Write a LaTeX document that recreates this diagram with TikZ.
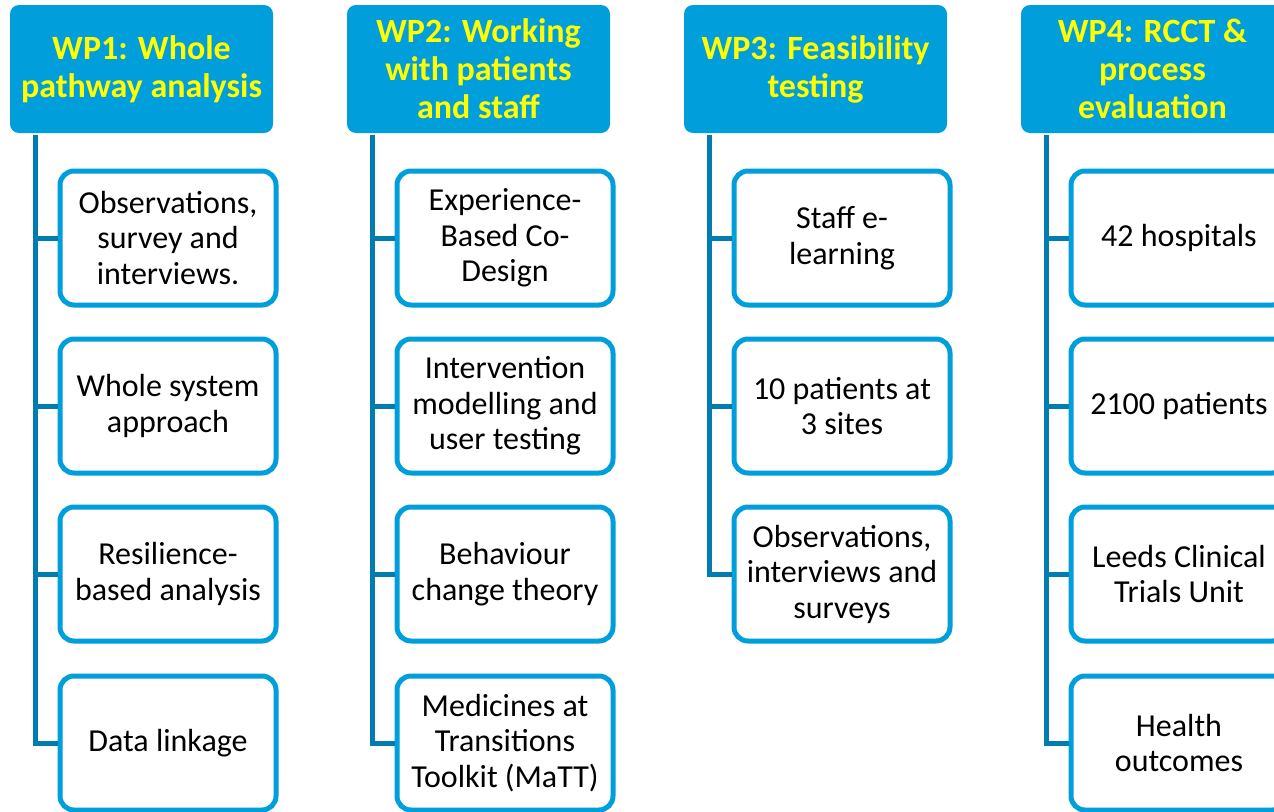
\documentclass[tikz,border=0pt]{standalone}
\usepackage{fontspec}
\setmainfont{Carlito}
\usetikzlibrary{positioning}

\definecolor{wpblue}{RGB}{0,158,219}
\definecolor{wpline}{RGB}{0,124,176}
\definecolor{wpyellow}{RGB}{255,255,0}

\begin{document}
\begin{tikzpicture}[x=1pt,y=-1pt,
  wp/.style={fill=wpblue,rounded corners=9pt,minimum width=263pt,minimum height=128pt,
    text=wpyellow,align=center,font=\fontsize{34}{38}\selectfont\bfseries,inner sep=0pt},
  task/.style={draw=wpblue,line width=5pt,fill=white,rounded corners=14pt,
    minimum width=216pt,minimum height=134pt,align=center,
    font=\fontsize{32}{35.5}\selectfont,inner sep=0pt},
  trunk/.style={draw=wpline,line width=5pt}]
 \useasboundingbox (0,0) rectangle (1274,811);
 \clip (0,0) rectangle (1274,811);
 % work package headers
 \node[wp] (wp1) at (141.5,69) {WP1: Whole\\pathway analysis};
 \node[wp] (wp2) at (478.5,69) {WP2: Working\\with patients\\and staff};
 \node[wp] (wp3) at (815.5,69) {WP3: Feasibility\\testing};
 \node[wp] (wp4) at (1152.5,69) {WP4: RCCT \&\\process\\evaluation};
 % trunk tops
 \coordinate (t1) at (35,135);
 \coordinate (t2) at (372,135);
 \coordinate (t3) at (709,135);
 \coordinate (t4) at (1046,135);
 % WP1 tasks
 \node[task] (a1) at (168,238) {Observations,\\survey and\\interviews.};
 \node[task] (a2) at (168,406) {Whole system\\approach};
 \node[task] (a3) at (168,574) {Resilience-\\based analysis};
 \node[task] (a4) at (168,743) {Data linkage};
 % WP2 tasks
 \node[task] (b1) at (505,238) {Experience-\\Based Co-\\Design};
 \node[task] (b2) at (505,406) {Intervention\\modelling and\\user testing};
 \node[task] (b3) at (505,574) {Behaviour\\change theory};
 \node[task] (b4) at (505,743) {Medicines at\\Transitions\\Toolkit (MaTT)};
 % WP3 tasks
 \node[task] (c1) at (842,238) {Staff e-\\learning};
 \node[task] (c2) at (842,406) {10 patients at\\3 sites};
 \node[task] (c3) at (842,574) {Observations,\\interviews and\\surveys};
 % WP4 tasks
 \node[task] (d1) at (1179,238) {42 hospitals};
 \node[task] (d2) at (1179,406) {2100 patients};
 \node[task] (d3) at (1179,574) {Leeds Clinical\\Trials Unit};
 \node[task] (d4) at (1179,743) {Health\\outcomes};
 % connectors
 \draw[trunk] (t1) |- (a4.west);
 \draw[trunk] (a1.west -| t1) -- (a1.west);
 \draw[trunk] (a2.west -| t1) -- (a2.west);
 \draw[trunk] (a3.west -| t1) -- (a3.west);
 \draw[trunk] (t2) |- (b4.west);
 \draw[trunk] (b1.west -| t2) -- (b1.west);
 \draw[trunk] (b2.west -| t2) -- (b2.west);
 \draw[trunk] (b3.west -| t2) -- (b3.west);
 \draw[trunk] (t3) |- (c3.west);
 \draw[trunk] (c1.west -| t3) -- (c1.west);
 \draw[trunk] (c2.west -| t3) -- (c2.west);
 \draw[trunk] (t4) |- (d4.west);
 \draw[trunk] (d1.west -| t4) -- (d1.west);
 \draw[trunk] (d2.west -| t4) -- (d2.west);
 \draw[trunk] (d3.west -| t4) -- (d3.west);
\end{tikzpicture}
\end{document}
